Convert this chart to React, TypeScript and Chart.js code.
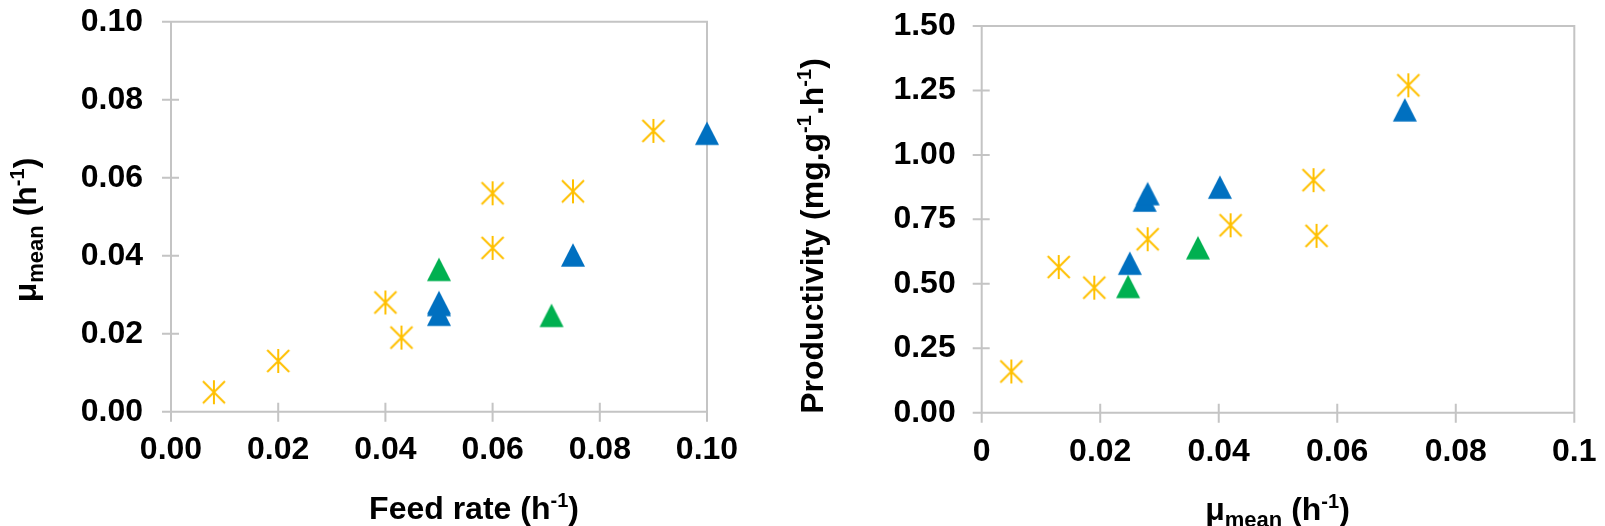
import React, { useEffect, useRef } from 'react';
import { Chart, registerables } from 'chart.js';

Chart.register(...registerables);

// ---------------- data ----------------
// yellow asterisks
const yellowFeedRate = [0.008, 0.02, 0.04, 0.043, 0.06, 0.06, 0.075, 0.09];
const yellowMuMean = [0.005, 0.013, 0.028, 0.019, 0.056, 0.042, 0.0565, 0.072];
const yellowProductivity = [0.16, 0.565, 0.673, 0.485, 0.902, 0.727, 0.686, 1.27];
// blue triangles
const blueFeedRate = [0.05, 0.05, 0.05, 0.075, 0.1];
const blueMuMean = [0.025, 0.0275, 0.028, 0.0402, 0.0714];
const blueProductivity = [0.58, 0.825, 0.85, 0.875, 1.175];
// green triangles
const greenFeedRate = [0.05, 0.071];
const greenMuMean = [0.0365, 0.0247];
const greenProductivity = [0.64, 0.49];

const leftXTicks = [0, 0.02, 0.04, 0.06, 0.08, 0.1];
const leftXTickLabels = ['0.00', '0.02', '0.04', '0.06', '0.08', '0.10'];
const leftYTicks = [0, 0.02, 0.04, 0.06, 0.08, 0.1];
const leftYTickLabels = ['0.00', '0.02', '0.04', '0.06', '0.08', '0.10'];
const rightXTicks = [0, 0.02, 0.04, 0.06, 0.08, 0.1];
const rightXTickLabels = ['0', '0.02', '0.04', '0.06', '0.08', '0.1'];
const rightYTicks = [0, 0.25, 0.5, 0.75, 1, 1.25, 1.5];
const rightYTickLabels = ['0.00', '0.25', '0.50', '0.75', '1.00', '1.25', '1.50'];

const leftXTitle = 'Feed rate (h^{-1})';
const leftYTitle = 'μ_{mean} (h^{-1})';
const rightXTitle = 'μ_{mean} (h^{-1})';
const rightYTitle = 'Productivity (mg.g^{-1}.h^{-1})';

// ---------------- styles ----------------
const FONT = "'Liberation Sans', Arial, Helvetica, sans-serif";
const AXIS_COLOR = '#C4C4C4';
const YELLOW = '#FFC000';
const BLUE = '#0070C0';
const GREEN = '#00B050';
const TITLE_SIZE = 32;
const SUP_SIZE = 20;
const SUB_SIZE = 22;
const SUP_DY = -12;
const SUB_DY = 7;

Chart.defaults.font.family = FONT;

function zip(xs: number[], ys: number[]) {
  return xs.map((x, i) => ({ x, y: ys[i] }));
}

function makeAsterisk(): HTMLCanvasElement {
  const c = document.createElement('canvas');
  c.width = 26;
  c.height = 26;
  const g = c.getContext('2d')!;
  g.strokeStyle = YELLOW;
  g.lineWidth = 2;
  g.lineCap = 'butt';
  g.beginPath();
  g.moveTo(13, 1);
  g.lineTo(13, 25);
  g.moveTo(2, 2);
  g.lineTo(24, 24);
  g.moveTo(24, 2);
  g.lineTo(2, 24);
  g.stroke();
  return c;
}

function makeTriangle(color: string): HTMLCanvasElement {
  const c = document.createElement('canvas');
  c.width = 26;
  c.height = 26;
  const g = c.getContext('2d')!;
  g.fillStyle = color;
  g.beginPath();
  g.moveTo(13, 1.2);
  g.lineTo(25, 24.7);
  g.lineTo(1, 24.7);
  g.closePath();
  g.fill();
  return c;
}

type Seg = { t: string; size: number; dy: number; w?: number };

function parseRich(s: string): Seg[] {
  return s
    .split(/(\^\{[^}]*\}|_\{[^}]*\})/)
    .filter((p) => p.length > 0)
    .map((p) => {
      if (p.startsWith('^{')) return { t: p.slice(2, -1), size: SUP_SIZE, dy: SUP_DY };
      if (p.startsWith('_{')) return { t: p.slice(2, -1), size: SUB_SIZE, dy: SUB_DY };
      return { t: p, size: TITLE_SIZE, dy: 0 };
    });
}

function drawRich(ctx: CanvasRenderingContext2D, text: string, x: number, y: number, rotate: boolean) {
  const segs = parseRich(text);
  ctx.save();
  let total = 0;
  segs.forEach((s) => {
    ctx.font = `bold ${s.size}px ${FONT}`;
    s.w = ctx.measureText(s.t).width;
    total += s.w;
  });
  ctx.translate(x, y);
  if (rotate) ctx.rotate(-Math.PI / 2);
  ctx.fillStyle = '#000';
  ctx.textAlign = 'left';
  ctx.textBaseline = 'alphabetic';
  let cx = -total / 2;
  segs.forEach((s) => {
    ctx.font = `bold ${s.size}px ${FONT}`;
    ctx.fillText(s.t, cx, s.dy);
    cx += s.w || 0;
  });
  ctx.restore();
}

const framePlugin = {
  id: 'frameTicks',
  beforeDatasetsDraw(chart: any) {
    const { ctx, chartArea: ca, scales } = chart;
    ctx.save();
    ctx.strokeStyle = AXIS_COLOR;
    ctx.lineWidth = 2;
    ctx.beginPath();
    ctx.rect(ca.left, ca.top, ca.right - ca.left, ca.bottom - ca.top);
    scales.x.ticks.forEach((t: any) => {
      const px = scales.x.getPixelForValue(t.value);
      ctx.moveTo(px, ca.bottom - 9);
      ctx.lineTo(px, ca.bottom + 10);
    });
    scales.y.ticks.forEach((t: any) => {
      const py = scales.y.getPixelForValue(t.value);
      ctx.moveTo(ca.left - 9, py);
      ctx.lineTo(ca.left + 8, py);
    });
    ctx.stroke();
    ctx.restore();
  },
};

const titlePlugin = {
  id: 'richTitles',
  afterDraw(chart: any, _args: any, opts: any) {
    const ctx = chart.ctx;
    if (opts.x) drawRich(ctx, opts.x.text, opts.x.cx, opts.x.baseline, false);
    if (opts.y) drawRich(ctx, opts.y.text, opts.y.baseline, opts.y.cy, true);
  },
};

function zeroPadding(s: any) {
  s.paddingTop = 0;
  s.paddingBottom = 0;
  s.paddingLeft = 0;
  s.paddingRight = 0;
}

function buildConfig(p: {
  datasets: any[];
  xTicks: number[];
  xLabels: string[];
  yTicks: number[];
  yLabels: string[];
  yMax: number;
  yAxisWidth: number;
  xAxisHeight: number;
  padding: any;
  yLabelPad: number;
  xLabelPad: number;
  titles: any;
}): any {
  const tickFont = { family: FONT, size: 32, weight: 'bold' as const };
  return {
    type: 'scatter',
    data: { datasets: p.datasets },
    options: {
      animation: false,
      responsive: false,
      events: [],
      layout: { padding: p.padding },
      plugins: {
        legend: { display: false },
        tooltip: { enabled: false },
        richTitles: p.titles,
      },
      scales: {
        x: {
          type: 'linear',
          min: p.xTicks[0],
          max: p.xTicks[p.xTicks.length - 1],
          grid: { display: false, drawTicks: false },
          border: { display: false },
          afterBuildTicks: (s: any) => {
            s.ticks = p.xTicks.map((v) => ({ value: v }));
          },
          ticks: {
            color: '#000',
            font: tickFont,
            padding: p.xLabelPad,
            maxRotation: 0,
            autoSkip: false,
            callback: (v: number) => {
              const i = p.xTicks.findIndex((t) => Math.abs(t - v) < 1e-9);
              return i >= 0 ? p.xLabels[i] : '';
            },
          },
          afterFit: (s: any) => {
            s.height = p.xAxisHeight;
            zeroPadding(s);
          },
        },
        y: {
          type: 'linear',
          min: 0,
          max: p.yMax,
          grid: { display: false, drawTicks: false },
          border: { display: false },
          afterBuildTicks: (s: any) => {
            s.ticks = p.yTicks.map((v) => ({ value: v }));
          },
          ticks: {
            color: '#000',
            font: tickFont,
            padding: p.yLabelPad,
            autoSkip: false,
            callback: (v: number) => {
              const i = p.yTicks.findIndex((t) => Math.abs(t - v) < 1e-9);
              return i >= 0 ? p.yLabels[i] : '';
            },
          },
          afterFit: (s: any) => {
            s.width = p.yAxisWidth;
            zeroPadding(s);
          },
        },
      },
    },
    plugins: [framePlugin, titlePlugin],
  };
}

export default function App() {
  const leftRef = useRef<HTMLCanvasElement>(null);
  const rightRef = useRef<HTMLCanvasElement>(null);

  useEffect(() => {
    const asterisk = makeAsterisk();
    const blueTri = makeTriangle(BLUE);
    const greenTri = makeTriangle(GREEN);
    const ds = (label: string, data: any[], style: HTMLCanvasElement) => ({
      label,
      data,
      pointStyle: style,
      pointRadius: 12,
      showLine: false,
      clip: false,
    });

    const left = new Chart(
      leftRef.current!,
      buildConfig({
        datasets: [
          ds('blue', zip(blueFeedRate, blueMuMean), blueTri),
          ds('green', zip(greenFeedRate, greenMuMean), greenTri),
          ds('yellow', zip(yellowFeedRate, yellowMuMean), asterisk),
        ],
        xTicks: leftXTicks,
        xLabels: leftXTickLabels,
        yTicks: leftYTicks,
        yLabels: leftYTickLabels,
        yMax: 0.1,
        yAxisWidth: 171,
        xAxisHeight: 114.3,
        padding: { left: 0, top: 21.7, right: 53, bottom: 0 },
        yLabelPad: 28,
        xLabelPad: 19,
        titles: {
          x: { text: leftXTitle, cx: 474, baseline: 519 },
          y: { text: leftYTitle, baseline: 36, cy: 230 },
        },
      })
    );

    const right = new Chart(
      rightRef.current!,
      buildConfig({
        datasets: [
          ds('blue', zip(blueMuMean, blueProductivity), blueTri),
          ds('green', zip(greenMuMean, greenProductivity), greenTri),
          ds('yellow', zip(yellowMuMean, yellowProductivity), asterisk),
        ],
        xTicks: rightXTicks,
        xLabels: rightXTickLabels,
        yTicks: rightYTicks,
        yLabels: rightYTickLabels,
        yMax: 1.5,
        yAxisWidth: 221.7,
        xAxisHeight: 113.3,
        padding: { left: 0, top: 26, right: 30.7, bottom: 0 },
        yLabelPad: 26,
        xLabelPad: 20,
        titles: {
          x: { text: rightXTitle, cx: 517.5, baseline: 520 },
          y: { text: rightYTitle, baseline: 63, cy: 236 },
        },
      })
    );

    return () => {
      left.destroy();
      right.destroy();
    };
  }, []);

  return (
    <div
      style={{
        position: 'absolute',
        left: 0,
        top: 0,
        width: 1605,
        height: 526,
        background: '#fff',
        overflow: 'hidden',
      }}
    >
      <canvas
        ref={leftRef}
        width={760}
        height={526}
        style={{ position: 'absolute', left: 0, top: 0, width: 760, height: 526 }}
      />
      <canvas
        ref={rightRef}
        width={845}
        height={526}
        style={{ position: 'absolute', left: 760, top: 0, width: 845, height: 526 }}
      />
    </div>
  );
}
